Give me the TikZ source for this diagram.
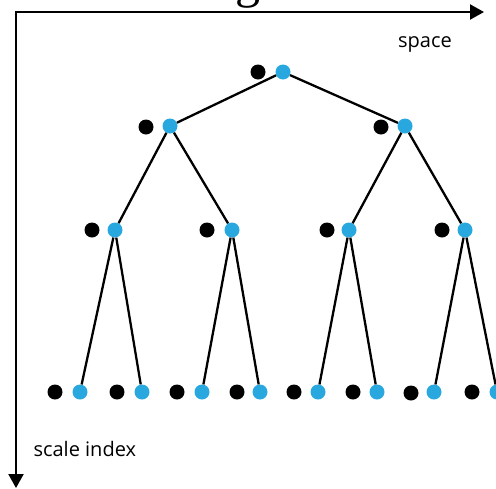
\documentclass[tikz,border=0pt]{standalone}
\usepackage{fontspec}
\setmainfont{Open Sans}
\newfontfamily\serifg{Liberation Serif}
\usetikzlibrary{arrows.meta}
\definecolor{dotblue}{RGB}{41,168,224}
\begin{document}
\begin{tikzpicture}[x=1pt,y=-1pt,
  bdot/.style={circle,fill=black,inner sep=0pt,minimum size=15pt},
  cdot/.style={circle,fill=dotblue,inner sep=0pt,minimum size=15pt},
  link/.style={line width=2.3pt},
  axis/.style={line width=2.2pt,{Triangle[length=14pt,width=15pt]}-{Triangle[length=14pt,width=15pt]}},
  lbl/.style={font=\fontsize{20}{24}\selectfont, text=black}]
\useasboundingbox (0,0) rectangle (496,488);
\clip (0,0) rectangle (496,488);
% title fragment
\node[anchor=base, font=\serifg\fontsize{50}{50}\selectfont, inner sep=0pt] (title) at (248,-3) {g};
% axes
\coordinate (xe) at (484,12);
\coordinate (o) at (16,12);
\coordinate (ye) at (16,488);
\draw[axis] (xe) -- (o) -- (ye);
\node[lbl] (space) at (425,44) {space};
\node[lbl, anchor=west] (scale) at (30,449) {scale index};
% level 0
\node[bdot] (b0) at (258,72) {};
\node[cdot] (c0) at (283,72) {};
% level 1
\node[bdot] (b10) at (146,127) {};
\node[cdot] (c10) at (170,126) {};
\node[bdot] (b11) at (381,127) {};
\node[cdot] (c11) at (405,126) {};
% level 2
\node[bdot] (b20) at (92,230) {};
\node[cdot] (c20) at (115,230) {};
\node[bdot] (b21) at (207,230) {};
\node[cdot] (c21) at (232,230) {};
\node[bdot] (b22) at (327,230) {};
\node[cdot] (c22) at (349,230) {};
\node[bdot] (b23) at (442,230) {};
\node[cdot] (c23) at (465,230) {};
% level 3
\node[bdot] (b30) at (55,392) {};
\node[cdot] (c30) at (80,392) {};
\node[bdot] (b31) at (117,392) {};
\node[cdot] (c31) at (142,392) {};
\node[bdot] (b32) at (177,392) {};
\node[cdot] (c32) at (202,392) {};
\node[bdot] (b33) at (237,392) {};
\node[cdot] (c33) at (260,392) {};
\node[bdot] (b34) at (294,392) {};
\node[cdot] (c34) at (318,392) {};
\node[bdot] (b35) at (353,392) {};
\node[cdot] (c35) at (377,392) {};
\node[bdot] (b36) at (411,393) {};
\node[cdot] (c36) at (434,392) {};
\node[bdot] (b37) at (472,392) {};
\node[cdot] (c37) at (497,392) {};
% links
\draw[link] (c0) -- (c10);
\draw[link] (c0) -- (c11);
\draw[link] (c10) -- (c20);
\draw[link] (c10) -- (c21);
\draw[link] (c11) -- (c22);
\draw[link] (c11) -- (c23);
\draw[link] (c20) -- (c30);
\draw[link] (c20) -- (c31);
\draw[link] (c21) -- (c32);
\draw[link] (c21) -- (c33);
\draw[link] (c22) -- (c34);
\draw[link] (c22) -- (c35);
\draw[link] (c23) -- (c36);
\draw[link] (c23) -- (c37);
\end{tikzpicture}
\end{document}
